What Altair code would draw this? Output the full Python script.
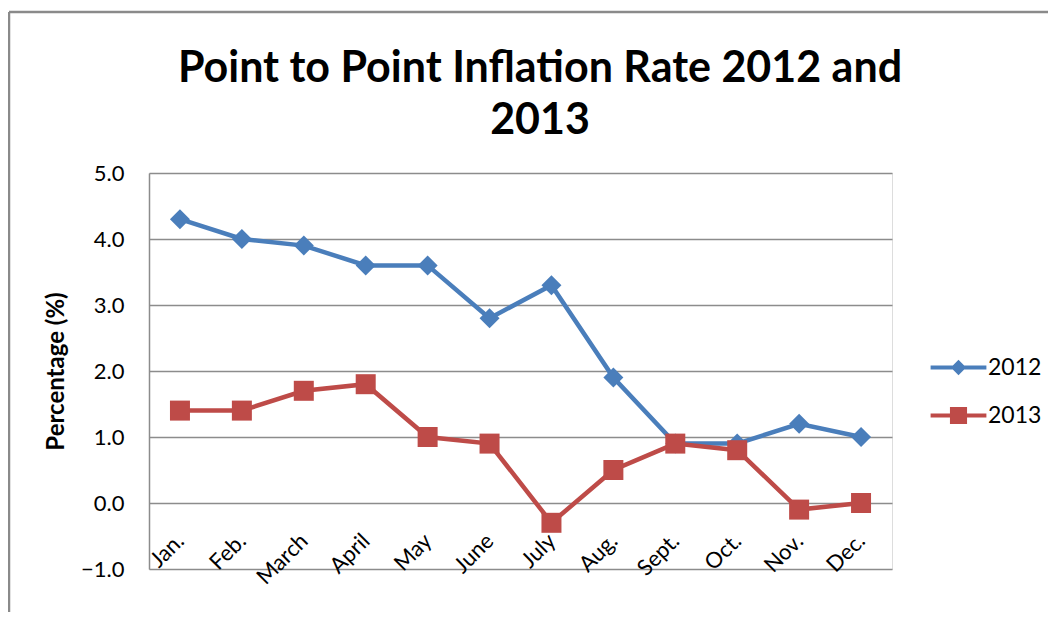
import altair as alt
import pandas as pd

months = ["Jan.", "Feb.", "March", "April", "May", "June", "July", "Aug.", "Sept.", "Oct.", "Nov.", "Dec."]
series = ["2012", "2013"]
v2012 = [4.3, 4.0, 3.9, 3.6, 3.6, 2.8, 3.3, 1.9, 0.9, 0.9, 1.2, 1.0]
v2013 = [1.4, 1.4, 1.7, 1.8, 1.0, 0.9, -0.3, 0.5, 0.9, 0.8, -0.1, 0.0]
y_ticks = [-1, 0, 1, 2, 3, 4, 5]
title_lines = ["Point to Point Inflation Rate 2012 and", "2013"]

colors = ["#4A7EBB", "#BE4B48"]

rows = []
for m, a, b in zip(months, v2012, v2013):
    rows.append({"month": m, "series": "2012", "value": a})
    rows.append({"month": m, "series": "2013", "value": b})
df = pd.DataFrame(rows)
one = pd.DataFrame({"k": [0]})

FONT = "Lato"
GRID = "#8C8C8C"

# legend symbols: line with a marker (custom paths)
leg_2012 = "M-3.1,-0.22L3.1,-0.22L3.1,0.22L-3.1,0.22Z M0,-0.85L0.85,0L0,0.85L-0.85,0Z"
leg_2013 = "M-3.1,-0.22L3.1,-0.22L3.1,0.22L-3.1,0.22Z M-0.95,-0.95L0.95,-0.95L0.95,0.95L-0.95,0.95Z"

x_enc = alt.X(
    "month:N",
    sort=months,
    scale=alt.Scale(padding=0.5),
    axis=alt.Axis(
        title=None,
        labelAngle=-45,
        labelAlign="right",
        labelBaseline="middle",
        labelFont=FONT,
        labelFontSize=22,
        labelColor="#000000",
        labelPadding=4,
        offset=-36,
        domain=False,
        ticks=False,
        grid=False,
    ),
)
y_enc = alt.Y(
    "value:Q",
    scale=alt.Scale(domain=[-1, 5], nice=False, zero=False),
    axis=alt.Axis(
        title="Percentage (%)",
        titleFont=FONT,
        titleFontSize=24,
        titleFontWeight="bold",
        titleColor="#000000",
        titlePadding=12,
        values=y_ticks,
        format=".1f",
        labelFont=FONT,
        labelFontSize=22,
        labelColor="#000000",
        labelPadding=25,
        ticks=False,
        domainColor=GRID,
        domainWidth=1.5,
        gridColor=GRID,
        gridWidth=1.5,
    ),
)

lines = alt.Chart(df).mark_line(strokeWidth=4.5).encode(
    x=x_enc,
    y=y_enc,
    color=alt.Color("series:N", scale=alt.Scale(domain=series, range=colors), legend=None),
)

points = alt.Chart(df).mark_point(filled=True, opacity=1, size=400).encode(
    x=x_enc,
    y=y_enc,
    color=alt.Color("series:N", scale=alt.Scale(domain=series, range=colors), legend=None),
    shape=alt.Shape(
        "series:N",
        scale=alt.Scale(domain=series, range=["diamond", "square"]),
        legend=None,
    ),
)

legend_props = dict(
    title=None,
    orient="none",
    legendX=798,
    legendY=183,
    symbolSize=324,
    symbolOpacity=1,
    symbolStrokeWidth=0,
    labelFont=FONT,
    labelFontSize=23,
    labelColor="#000000",
    labelOffset=18,
    rowPadding=24,
)

legend_layer = alt.Chart(df).mark_point(filled=True, opacity=0).encode(
    x=x_enc,
    y=y_enc,
    color=alt.Color(
        "series:N",
        scale=alt.Scale(domain=series, range=colors),
        legend=alt.Legend(**legend_props),
    ),
    shape=alt.Shape(
        "series:N",
        scale=alt.Scale(domain=series, range=[leg_2012, leg_2013]),
        legend=alt.Legend(**legend_props),
    ),
)

title1 = alt.Chart(one).mark_text(
    text=title_lines[0], font=FONT, fontSize=43, fontWeight="bold", color="#000000",
    align="center", baseline="alphabetic",
).encode(x=alt.value(391), y=alt.value(-91))
title2 = alt.Chart(one).mark_text(
    text=title_lines[1], font=FONT, fontSize=43, fontWeight="bold", color="#000000",
    align="center", baseline="alphabetic",
).encode(x=alt.value(391), y=alt.value(-39))

frame_top = alt.Chart(one).mark_rule(color="#8A8A8A", strokeWidth=2.5).encode(
    x=alt.value(-140), x2=alt.value(900), y=alt.value(-161)
)
frame_left = alt.Chart(one).mark_rule(color="#8A8A8A", strokeWidth=2.5).encode(
    x=alt.value(-140), y=alt.value(-161), y2=alt.value(460)
)

chart = (
    alt.layer(frame_top, frame_left, title1, title2, lines, points, legend_layer)
    .resolve_scale(shape="independent", color="independent")
    .properties(
        width=743,
        height=396,
        autosize=alt.AutoSizeParams(type="none"),
        padding={"left": 141, "top": 165, "right": 156, "bottom": 43},
    )
    .configure_view(stroke=None)
    .configure(background="#FFFFFF")
)

chart.save("out.html", embed_options={"renderer": "svg", "actions": False})
